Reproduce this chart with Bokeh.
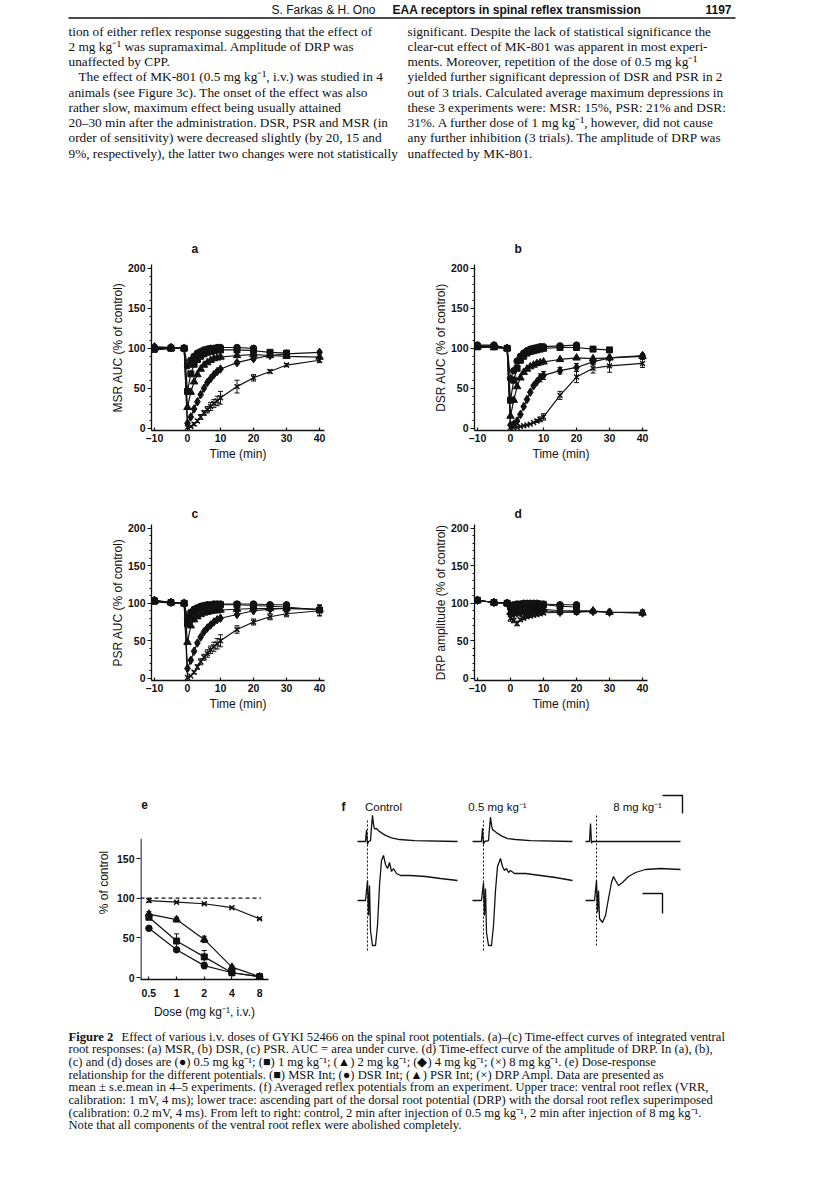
import numpy as np
from bokeh.plotting import figure
from bokeh.layouts import column, row
from bokeh.models import Range1d, Spacer, FixedTicker, Label, ColumnDataSource, CustomJSTickFormatter
from bokeh.core.properties import value
from bokeh.transform import dodge
from bokeh.embed import file_html
from bokeh.resources import INLINE

# ---------------------------------------------------------------- data
T = [-10, -5, -1, 0, 1, 2, 3, 4, 5, 6, 7, 8, 9, 10, 15, 20, 25, 30, 40]

# (a) MSR AUC, % of control
MSR_05 = [101, 101, 100, 78, 85, 90, 94, 96, 98, 99, 100, 100, 101, 101, 101, 100]
MSR_1 = [99, 100, 100, 46, 68, 80, 86, 90, 93, 95, 96, 97, 98, 98, 98, 97, 95, 94]
MSR_2 = [100, 100, 100, 26, 45, 58, 67, 74, 79, 82, 85, 87, 88, 89, 91, 92, 91, 90, 89]
MSR_4 = [102, 101, 100, 6, 14, 24, 33, 42, 50, 57, 62, 67, 71, 74, 82, 87, 91, 93, 95]
MSR_8 = [98, 100, 100, 1, 2, 5, 9, 14, 19, 23, 27, 31, 34, 38, 52, 63, 71, 79, 85]
MSR_8_SEM = [3, 0, 0, 0, 1, 2, 2, 3, 3, 4, 5, 5, 6, 8, 8, 4, 2, 2, 3]
MSR_4_SEM = [2, 0, 0, 0, 0, 0, 0, 0, 0, 0, 0, 0, 0, 0, 2, 2, 0, 0, 2]

# (b) DSR AUC
DSR_05 = [104, 104, 100, 62, 72, 84, 90, 94, 97, 99, 100, 101, 102, 102, 103, 104]
DSR_1 = [102, 102, 100, 35, 60, 75, 85, 90, 94, 96, 97, 98, 99, 100, 101, 101, 99, 98]
DSR_2 = [102, 101, 100, 15, 35, 52, 63, 70, 74, 77, 79, 81, 82, 83, 86, 88, 87, 88, 90]
DSR_4 = [103, 103, 100, 4, 5, 9, 17, 27, 36, 45, 53, 58, 63, 66, 72, 76, 83, 88, 91]
DSR_8 = [101, 101, 100, 1, 1, 1, 2, 3, 4, 5, 7, 9, 11, 14, 41, 64, 75, 78, 81]
DSR_05_SEM = [2, 0, 0, 0, 0, 0, 0, 0, 0, 0, 0, 0, 0, 0, 2, 3]
DSR_4_SEM = [0, 0, 0, 0, 0, 0, 0, 0, 0, 0, 0, 0, 5, 5, 4, 5, 3, 2, 2]
DSR_8_SEM = [0, 0, 0, 0, 0, 0, 0, 0, 0, 0, 0, 2, 3, 4, 5, 7, 6, 8, 5]

# (c) PSR AUC
PSR_05 = [104, 101, 100, 80, 88, 92, 94, 96, 97, 98, 98, 99, 99, 99, 99, 99, 98, 98]
PSR_1 = [103, 101, 100, 73, 82, 88, 92, 94, 95, 96, 97, 97, 97, 98, 98, 97, 96, 95, 91]
PSR_2 = [102, 101, 100, 48, 70, 78, 82, 85, 87, 88, 89, 90, 90, 91, 92, 93, 93, 93, 92]
PSR_4 = [104, 101, 100, 13, 24, 36, 47, 55, 62, 67, 71, 75, 78, 80, 85, 90, 92, 93, 92]
PSR_8 = [102, 100, 100, 1, 3, 8, 15, 22, 28, 33, 38, 42, 46, 50, 65, 75, 82, 86, 90]
PSR_1_SEM = [3, 0, 0, 0, 0, 0, 0, 0, 0, 0, 0, 0, 0, 0, 0, 0, 0, 0, 7]
PSR_8_SEM = [3, 0, 0, 0, 0, 2, 3, 4, 4, 5, 5, 6, 7, 8, 5, 4, 4, 4, 7]

# (d) DRP amplitude
DRP_05 = [104, 101, 100, 97, 98, 99, 99, 100, 100, 100, 100, 100, 99, 99, 98, 98]
DRP_1 = [104, 101, 100, 95, 96, 97, 97, 98, 98, 98, 99, 99, 98, 98, 96, 95]
DRP_2 = [104, 101, 100, 88, 89, 90, 90, 91, 91, 91, 92, 92, 92, 92, 90, 90, 90, 88, 87]
DRP_4 = [104, 101, 100, 85, 86, 87, 87, 88, 88, 89, 89, 89, 90, 90, 88, 89, 89, 88, 87]
DRP_8 = [104, 101, 100, 80, 77, 73, 78, 80, 82, 83, 84, 85, 86, 87, 88, 88, 89, 88, 88]
DRP_8_SEM = [0, 0, 0, 4, 3, 3, 2, 2, 2, 2, 2, 2, 2, 2, 2, 2, 1, 1, 1]

# (e) dose-response
DR_DOSE = [0.5, 1, 2, 4, 8]
DR_MSR = [76, 46, 26, 6, 1]
DR_MSR_SEM = [3, 9, 8, 2, 1]
DR_DSR = [62, 35, 15, 6, 1]
DR_DSR_SEM = [2, 2, 4, 1, 0]
DR_PSR = [80, 73, 48, 13, 1]
DR_PSR_SEM = [3, 3, 4, 2, 0]
DR_DRP = [97, 95, 93, 88, 74]
DR_DRP_SEM = [2, 1, 1, 1, 1]

# (f) averaged potentials: time (ms) and voltage (mV)
VRR_CTRL_T = [0, 1.6, 1.8, 2.0, 2.2, 2.6, 2.8, 3.0, 3.2, 3.4, 3.8, 4.2, 4.8, 5.6, 6.8, 8.4, 11.4, 20.0]
VRR_CTRL_V = [0, 0, 0.63, -0.16, 0, 0.05, 0.80, 1.45, 0.95, 0.70, 0.72, 0.60, 0.48, 0.34, 0.20, 0.11, 0.05, 0]
VRR_05_T = [0, 1.8, 2.0, 2.2, 2.4, 3.2, 3.4, 3.6, 3.8, 4.0, 4.4, 5.0, 5.8, 7.0, 8.6, 11.6, 20.0]
VRR_05_V = [0, 0, 0.74, -0.16, 0, 0.05, 0.75, 1.35, 0.90, 0.66, 0.58, 0.45, 0.31, 0.16, 0.11, 0.05, 0]
VRR_8_T = [0, 0.8, 1.0, 1.2, 1.4, 19.0]
VRR_8_V = [0, 0, 1.0, -0.1, 0, 0]

DRP_CTRL_T = [0, 1.6, 2.0, 2.2, 2.4, 2.6, 3.0, 3.6, 4.0, 4.4, 4.8, 5.2, 5.6, 6.0, 6.4, 6.8, 7.2, 7.8, 8.6, 10.6, 13.6, 16.6, 20.0]
DRP_CTRL_V = [0, 0, 0.20, -0.15, 0.15, -0.30, -0.45, -0.45, -0.25, 0.15, 0.40, 0.45, 0.36, 0.32, 0.38, 0.29, 0.32, 0.27, 0.25, 0.25, 0.24, 0.22, 0.20]
DRP_05_T = [0, 1.8, 2.2, 2.4, 2.6, 2.8, 3.2, 3.8, 4.2, 4.6, 5.0, 5.6, 6.0, 6.4, 6.8, 7.2, 7.6, 8.4, 10.6, 13.6, 16.6, 20.0]
DRP_05_V = [0, 0, 0.18, -0.15, 0.12, -0.32, -0.45, -0.45, -0.25, 0.10, 0.34, 0.42, 0.34, 0.30, 0.32, 0.28, 0.30, 0.27, 0.27, 0.25, 0.23, 0.20]
DRP_8_T = [0, 1.8, 2.2, 2.4, 2.6, 2.8, 3.4, 4.0, 4.6, 5.2, 5.6, 6.0, 6.6, 7.4, 8.6, 10.0, 12.0, 15.0, 19.0]
DRP_8_V = [0, 0, 0.20, -0.12, 0.10, -0.18, -0.22, -0.15, 0.02, 0.18, 0.24, 0.20, 0.15, 0.18, 0.24, 0.28, 0.31, 0.32, 0.31]
ART_T = [2.0, 2.2, 2.2]          # stimulus artefact time (ms) in each column
ART_TOP = [0.80, 0.80, 0.85]     # artefact extent on the DRP trace (mV)
ART_BOT = [-0.50, -0.50, -0.45]
CAL_MS = 4
CAL_VRR_MV = 1
CAL_DRP_MV = 0.2

F_TITLES = ["Control", "0.5 mg kg\u207b\u00b9", "8 mg kg\u207b\u00b9"]

HEADER_LEFT = "S. Farkas & H. Ono"
HEADER_MID = "EAA receptors in spinal reflex transmission"
HEADER_PAGE = "1197"

LEFT_LINES = [
    "tion of either reflex response suggesting that the effect of",
    "2 mg kg\u207b\u00b9 was supramaximal. Amplitude of DRP was",
    "unaffected by CPP.",
    "The effect of MK-801 (0.5 mg kg\u207b\u00b9, i.v.) was studied in 4",
    "animals (see Figure 3c). The onset of the effect was also",
    "rather slow, maximum effect being usually attained",
    "20\u201330 min after the administration. DSR, PSR and MSR (in",
    "order of sensitivity) were decreased slightly (by 20, 15 and",
    "9%, respectively), the latter two changes were not statistically",
]
RIGHT_LINES = [
    "significant. Despite the lack of statistical significance the",
    "clear-cut effect of MK-801 was apparent in most experi-",
    "ments. Moreover, repetition of the dose of 0.5 mg kg\u207b\u00b9",
    "yielded further significant depression of DSR and PSR in 2",
    "out of 3 trials. Calculated average maximum depressions in",
    "these 3 experiments were: MSR: 15%, PSR: 21% and DSR:",
    "31%. A further dose of 1 mg kg\u207b\u00b9, however, did not cause",
    "any further inhibition (3 trials). The amplitude of DRP was",
    "unaffected by MK-801.",
]
CAPTION_HEAD = "Figure 2"
CAPTION_LINES = [
    "Effect of various i.v. doses of GYKI 52466 on the spinal root potentials. (a)\u2013(c) Time-effect curves of integrated ventral",
    "root responses: (a) MSR, (b) DSR, (c) PSR. AUC = area under curve. (d) Time-effect curve of the amplitude of DRP. In (a), (b),",
    "(c) and (d) doses are (\u25cf) 0.5 mg kg\u207b\u00b9; (\u25a0) 1 mg kg\u207b\u00b9; (\u25b2) 2 mg kg\u207b\u00b9; (\u25c6) 4 mg kg\u207b\u00b9; (\u00d7) 8 mg kg\u207b\u00b9. (e) Dose-response",
    "relationship for the different potentials. (\u25a0) MSR Int; (\u25cf) DSR Int; (\u25b2) PSR Int; (\u00d7) DRP Ampl. Data are presented as",
    "mean \u00b1 s.e.mean in 4\u20135 experiments. (f) Averaged reflex potentials from an experiment. Upper trace: ventral root reflex (VRR,",
    "calibration: 1 mV, 4 ms); lower trace: ascending part of the dorsal root potential (DRP) with the dorsal root reflex superimposed",
    "(calibration: 0.2 mV, 4 ms). From left to right: control, 2 min after injection of 0.5 mg kg\u207b\u00b9, 2 min after injection of 8 mg kg\u207b\u00b9.",
    "Note that all components of the ventral root reflex were abolished completely.",
]

# ---------------------------------------------------------------- style
SANS = "Liberation Sans"
SERIF = "Liberation Serif"
INK = "#111111"
MSIZE = {"circle": 6.5, "square": 6, "triangle": 7.5, "diamond": 8.5, "x": 7}


def page_fig(width, height, y0, x0=0):
    p = figure(width=width, height=height, x_range=Range1d(x0, x0 + width),
               y_range=Range1d(y0 + height, y0), x_axis_location=None,
               y_axis_location=None, min_border=0, toolbar_location=None,
               output_backend="svg", title=None)
    p.outline_line_color = None
    p.grid.visible = False
    return p


def style_axis(ax):
    ax.axis_line_width = 1.3
    ax.axis_line_color = INK
    ax.major_tick_line_width = 1.2
    ax.major_tick_line_color = INK
    ax.minor_tick_line_width = 1
    ax.minor_tick_line_color = INK
    ax.major_label_text_font = SANS
    ax.major_label_text_font_size = "10.5px"
    ax.major_label_text_font_style = "bold"
    ax.major_label_text_color = INK
    ax.axis_label_text_font = SANS
    ax.axis_label_text_font_size = "12px"
    ax.axis_label_text_font_style = "normal"
    ax.axis_label_text_color = INK


def errbars(p, t, y, e):
    idx = [i for i, v in enumerate(e) if v > 0]
    if not idx:
        return
    tt = [t[i] for i in idx]
    lo = [y[i] - e[i] for i in idx]
    hi = [y[i] + e[i] for i in idx]
    p.segment(tt, lo, tt, hi, line_color=INK, line_width=1)
    p.scatter(tt + tt, lo + hi, marker="dash", size=5, line_color=INK, line_width=1)


def panel_title(p, letter, offset, standoff):
    p.title.text = letter
    p.title.align = "left"
    p.title.offset = offset
    p.title.standoff = standoff
    p.title.text_font = SANS
    p.title.text_font_size = "12px"
    p.title.text_font_style = "bold"
    p.title.text_color = INK


def time_panel(letter, ylabel, series, top, bottom, standoff):
    p = figure(width=271, height=250, x_range=Range1d(-10.9, 41.5), y_range=Range1d(-3, 205),
               min_border_left=86, min_border_right=12, min_border_top=top, min_border_bottom=bottom,
               toolbar_location=None, output_backend="svg")
    panel_title(p, letter, 40, standoff)
    p.grid.visible = False
    p.outline_line_color = None
    for marker, vals, sem in series:
        t = T[:len(vals)]
        p.line(t, vals, line_color=INK, line_width=1.2)
        if sem is not None:
            errbars(p, t, vals, sem)
        p.scatter(t, vals, marker=marker, size=MSIZE[marker], fill_color=INK,
                  line_color=INK, line_width=1.4 if marker == "x" else 1)
    xa = p.xaxis[0]
    ya = p.yaxis[0]
    style_axis(xa)
    style_axis(ya)
    xa.ticker = FixedTicker(ticks=[-10, 0, 10, 20, 30, 40])
    xa.major_label_overrides = {-10: "\u201310"}
    xa.major_tick_in = 3
    xa.major_tick_out = 0
    xa.major_label_standoff = 1
    xa.axis_label = "Time (min)"
    xa.axis_label_standoff = 0
    ya.ticker = FixedTicker(ticks=[0, 50, 100, 150, 200], minor_ticks=list(range(0, 210, 10)))
    ya.major_tick_in = 0
    ya.major_tick_out = 4
    ya.minor_tick_in = 0
    ya.minor_tick_out = 2
    ya.major_label_standoff = 2
    ya.axis_label = ylabel
    ya.axis_label_standoff = 0
    return p


fig_a = time_panel("a", "MSR AUC (% of control)", [
    ("x", MSR_8, MSR_8_SEM), ("diamond", MSR_4, MSR_4_SEM), ("triangle", MSR_2, None),
    ("square", MSR_1, None), ("circle", MSR_05, None)], 29, 50, 18)
fig_b = time_panel("b", "DSR AUC (% of control)", [
    ("x", DSR_8, DSR_8_SEM), ("diamond", DSR_4, DSR_4_SEM), ("triangle", DSR_2, None),
    ("square", DSR_1, None), ("circle", DSR_05, DSR_05_SEM)], 29, 50, 18)
fig_c = time_panel("c", "PSR AUC (% of control)", [
    ("x", PSR_8, PSR_8_SEM), ("diamond", PSR_4, None), ("triangle", PSR_2, None),
    ("square", PSR_1, PSR_1_SEM), ("circle", PSR_05, None)], 44, 50, 8)
fig_d = time_panel("d", "DRP amplitude (% of control)", [
    ("x", DRP_8, DRP_8_SEM), ("diamond", DRP_4, None), ("triangle", DRP_2, None),
    ("square", DRP_1, None), ("circle", DRP_05, None)], 44, 50, 8)

# ---------------------------------------------------------------- row e / f geometry
ROW_EF_TOP, ROW_EF_H = 730, 296
EF_FRAME_TOP, EF_FRAME_BOT = 785, 979
E_ZERO, E_PX_PER_UNIT = 977.0, 0.793
E_AXIS_TOP = 175


def ey(py):
    return (E_ZERO - py) / E_PX_PER_UNIT


fig_e = figure(width=248, height=ROW_EF_H, x_axis_type="log", x_range=Range1d(0.405, 10),
               y_range=Range1d(ey(EF_FRAME_BOT), ey(EF_FRAME_TOP)), min_border_left=100,
               min_border_right=20, min_border_top=EF_FRAME_TOP - ROW_EF_TOP,
               min_border_bottom=ROW_EF_TOP + ROW_EF_H - EF_FRAME_BOT,
               toolbar_location=None, output_backend="svg", title=None)
fig_e.grid.visible = False
fig_e.outline_line_color = None
fig_e.line([0.41, 0.41], [ey(EF_FRAME_BOT), E_AXIS_TOP], line_color=INK, line_width=1.3)
fig_e.line([0.405, 8.3], [100, 100], line_color=INK, line_width=1.2, line_dash="4 3")
for marker, vals, sem in [("x", DR_DRP, DR_DRP_SEM), ("triangle", DR_PSR, DR_PSR_SEM),
                          ("square", DR_MSR, DR_MSR_SEM), ("circle", DR_DSR, DR_DSR_SEM)]:
    fig_e.line(DR_DOSE, vals, line_color=INK, line_width=1.2)
    errbars(fig_e, DR_DOSE, vals, sem)
    fig_e.scatter(DR_DOSE, vals, marker=marker, size=MSIZE[marker], fill_color=INK,
                  line_color=INK, line_width=1.4 if marker == "x" else 1)
fig_e.add_layout(Label(x=0.412, y=ey(804), text="e", text_font=SANS, text_font_size="12px",
                       text_font_style="bold", text_baseline="middle", text_align="left",
                       text_color=INK))
xe = fig_e.xaxis[0]
ye = fig_e.yaxis[0]
style_axis(xe)
style_axis(ye)
ye.axis_line_color = None
xe.ticker = FixedTicker(ticks=DR_DOSE)
xe.formatter = CustomJSTickFormatter(code="return String(tick);")
xe.major_tick_in = 3
xe.major_tick_out = 0
xe.minor_tick_line_color = None
xe.major_label_standoff = 9
xe.axis_label = "Dose (mg kg\u207b\u00b9, i.v.)"
xe.axis_label_standoff = 5
ye.ticker = FixedTicker(ticks=[0, 50, 100, 150])
ye.major_tick_in = 0
ye.major_tick_out = 4
ye.major_label_standoff = 2
ye.axis_label = "% of control"
ye.axis_label_standoff = 3

# ---------------------------------------------------------------- panel f
F_X0, F_W = 288, 528
PX_PER_MS = 5.0
T0_PAGE = 357.0                        # page x of the control trace start
VRR_BASE, VRR_PX_PER_MV = 841.0, 18.0
DRP_BASE, DRP_PX_PER_MV = 900.0, 100.0
COL_OFFSETS = [0.0, (472 - T0_PAGE) / PX_PER_MS, (585 - T0_PAGE) / PX_PER_MS]


def fx(px):
    return (px - T0_PAGE) / PX_PER_MS


def fy(py):
    return (VRR_BASE - py) / VRR_PX_PER_MV


def fy2(py):
    return (DRP_BASE - py) / DRP_PX_PER_MV


fig_f = figure(width=F_W, height=ROW_EF_H, x_range=Range1d(fx(F_X0), fx(F_X0 + F_W)),
               y_range=Range1d(fy(EF_FRAME_BOT), fy(EF_FRAME_TOP)), x_axis_location=None,
               y_axis_location=None, min_border_left=0, min_border_right=0,
               min_border_top=EF_FRAME_TOP - ROW_EF_TOP,
               min_border_bottom=ROW_EF_TOP + ROW_EF_H - EF_FRAME_BOT,
               toolbar_location=None, output_backend="svg", title=None)
fig_f.extra_y_ranges = {"drp": Range1d(fy2(EF_FRAME_BOT), fy2(EF_FRAME_TOP))}
fig_f.outline_line_color = None
fig_f.grid.visible = False

vrr = [(VRR_CTRL_T, VRR_CTRL_V), (VRR_05_T, VRR_05_V), (VRR_8_T, VRR_8_V)]
drp = [(DRP_CTRL_T, DRP_CTRL_V), (DRP_05_T, DRP_05_V), (DRP_8_T, DRP_8_V)]
for i, off in enumerate(COL_OFFSETS):
    s1 = ColumnDataSource(dict(t=vrr[i][0], v=vrr[i][1]))
    fig_f.line(x=dodge("t", off), y="v", source=s1, line_color=INK, line_width=1.3)
    s2 = ColumnDataSource(dict(t=drp[i][0], v=drp[i][1]))
    fig_f.line(x=dodge("t", off), y="v", source=s2, line_color=INK, line_width=1.3,
               y_range_name="drp")
    s3 = ColumnDataSource(dict(t=[ART_T[i]], top=[ART_TOP[i]], bot=[ART_BOT[i]]))
    fig_f.segment(x0=dodge("t", off), y0="top", x1=dodge("t", off), y1="bot", source=s3,
                  line_color=INK, line_width=1, line_dash="2 2", y_range_name="drp")

# calibration bars
cx, cy = fx(662), fy(795)
fig_f.line([cx, cx + CAL_MS, cx + CAL_MS], [cy, cy, cy - CAL_VRR_MV], line_color=INK, line_width=1.4)
cx2, cy2 = fx(642), fy2(893)
fig_f.line([cx2, cx2 + CAL_MS, cx2 + CAL_MS], [cy2, cy2, cy2 - CAL_DRP_MV], line_color=INK,
           line_width=1.4, y_range_name="drp")

fig_f.add_layout(Label(x=fx(343), y=fy(806), text="f", text_font=SANS, text_font_size="12px",
                       text_font_style="bold", text_baseline="middle", text_align="center",
                       text_color=INK))
for title, px in zip(F_TITLES, [383, 497, 637]):
    fig_f.add_layout(Label(x=fx(px), y=fy(806), text=title, text_font=SANS,
                           text_font_size="11.5px", text_baseline="middle", text_align="center",
                           text_color=INK))

# ---------------------------------------------------------------- text blocks
top = page_fig(816, 230, 0)
top.text(x=[375], y=[9], text=[HEADER_LEFT], text_font=value(SANS), text_font_size="12px",
         text_align="right", text_baseline="middle", text_color=INK)
top.text(x=[392], y=[9], text=[HEADER_MID], text_font=value(SANS), text_font_size="12px",
         text_font_style="bold", text_align="left", text_baseline="middle", text_color=INK)
top.text(x=[731], y=[9], text=[HEADER_PAGE], text_font=value(SANS), text_font_size="12px",
         text_font_style="bold", text_align="right", text_baseline="middle", text_color=INK)
top.segment(x0=[68], y0=[17.5], x1=[735], y1=[17.5], line_color=INK, line_width=1.6)

LINE_H = 15.25
ys = [30.5 + LINE_H * i for i in range(len(LEFT_LINES))]
xs = [68 + (10 if i == 3 else 0) for i in range(len(LEFT_LINES))]
top.text(x=xs, y=ys, text=LEFT_LINES, text_font=value(SERIF), text_font_size="13.3px",
         text_align="left", text_baseline="middle", text_color=INK)
top.text(x=[407] * len(RIGHT_LINES), y=ys[:len(RIGHT_LINES)], text=RIGHT_LINES,
         text_font=value(SERIF), text_font_size="13.3px", text_align="left",
         text_baseline="middle", text_color=INK)

CAP_TOP, CAP_HGT = ROW_EF_TOP + ROW_EF_H, 160
cap = page_fig(816, CAP_HGT, CAP_TOP)
CAP_H = 12.7
cys = [1036 + CAP_H * i for i in range(len(CAPTION_LINES))]
cap.text(x=[68], y=[cys[0]], text=[CAPTION_HEAD], text_font=value(SERIF), text_font_size="12.6px",
         text_font_style="bold", text_align="left", text_baseline="middle", text_color=INK)
cap.text(x=[121] + [68] * (len(CAPTION_LINES) - 1), y=cys, text=CAPTION_LINES,
         text_font=value(SERIF), text_font_size="12.6px", text_align="left",
         text_baseline="middle", text_color=INK)

layout = column(
    top,
    row(Spacer(width=65, height=250), fig_a, Spacer(width=52, height=250), fig_b),
    row(Spacer(width=65, height=250), fig_c, Spacer(width=52, height=250), fig_d),
    row(Spacer(width=40, height=ROW_EF_H), fig_e, fig_f),
    cap,
)

open("out.html", "w").write(file_html(layout, INLINE))
